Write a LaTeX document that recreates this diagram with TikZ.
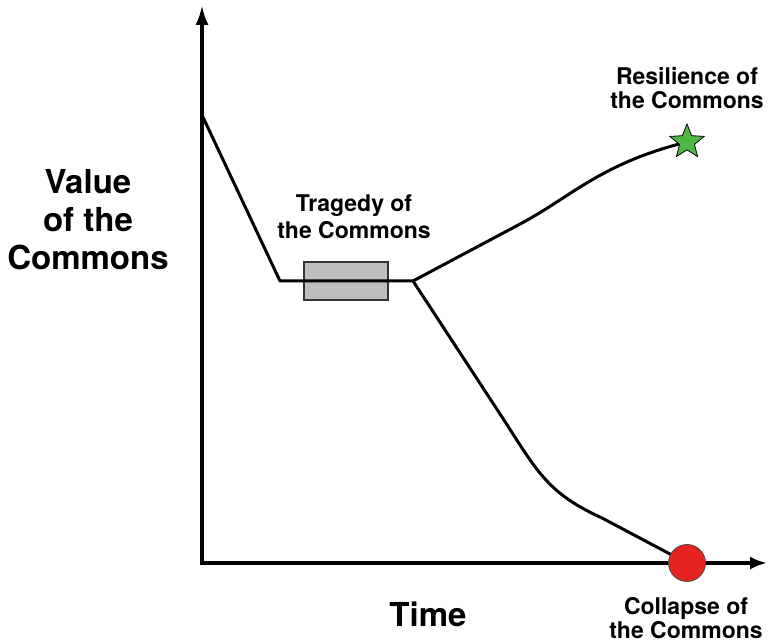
\documentclass[tikz,border=0pt]{standalone}
\usepackage{fontspec}
\setmainfont{TeX Gyre Heros}
\usetikzlibrary{arrows.meta,shapes.geometric}
\definecolor{stargreen}{HTML}{4DB848}
\definecolor{dotred}{HTML}{E52421}
\definecolor{boxgray}{HTML}{BEBEBE}

\begin{document}
\begin{tikzpicture}[x=1pt,y=1pt,
    axis/.style={line width=3.5pt,line join=miter,{Latex[length=20pt,width=13pt]}-{Latex[length=17pt,width=13pt]}},
    trend/.style={line width=3pt,line join=round},
    lbl/.style={font=\bfseries\fontsize{23}{24}\selectfont,align=center,inner sep=0pt},
    biglbl/.style={font=\bfseries\fontsize{33}{38}\selectfont,align=center,inner sep=0pt}]
  \useasboundingbox (-202,-79) rectangle (567,563);
  % axes
  \coordinate (O) at (0,0);
  \coordinate (ytop) at (0,558);
  \coordinate (xend) at (565,0);
  \draw[axis] (ytop) -- (O) -- (xend);
  % the tragedy phase
  \node[draw=black!80,line width=1.2pt,fill=boxgray,minimum width=84pt,minimum height=38pt,inner sep=0pt] (tragbox) at (144,282) {};
  \coordinate (start) at (0,448);
  \coordinate (knee) at (78,282);
  \coordinate (split) at (211,282);
  \coordinate (good) at (485,421);
  \coordinate (bad) at (485,0);
  \draw[trend] (start) -- (knee) -- (split);
  % two outcomes
  \draw[trend] (split) -- (320,340) .. controls (370,367) and (400,400) .. (good);
  \draw[trend] (split) -- (300,146) .. controls (335,92) and (345,70) .. (400,45) -- (bad);
  \node[star,star points=5,star point ratio=2.3,minimum size=36pt,inner sep=0pt,fill=stargreen,draw=black,line width=0.8pt] (resil) at (good) {};
  \node[circle,minimum size=37pt,inner sep=0pt,fill=dotred,draw=black!70,line width=0.8pt] (collapse) at (bad) {};
  % labels
  \node[lbl] (reslbl) at (485,475) {Resilience of\\the Commons};
  \node[lbl,font=\bfseries\fontsize{23}{27}\selectfont] (traglbl) at (152,346) {Tragedy of\\the Commons};
  \node[lbl] (collbl) at (484,-55) {Collapse of\\the Commons};
  \node[biglbl] (vallbl) at (-114,343) {Value\\of the\\Commons};
  \node[biglbl] (timelbl) at (226,-51) {Time};
\end{tikzpicture}
\end{document}
